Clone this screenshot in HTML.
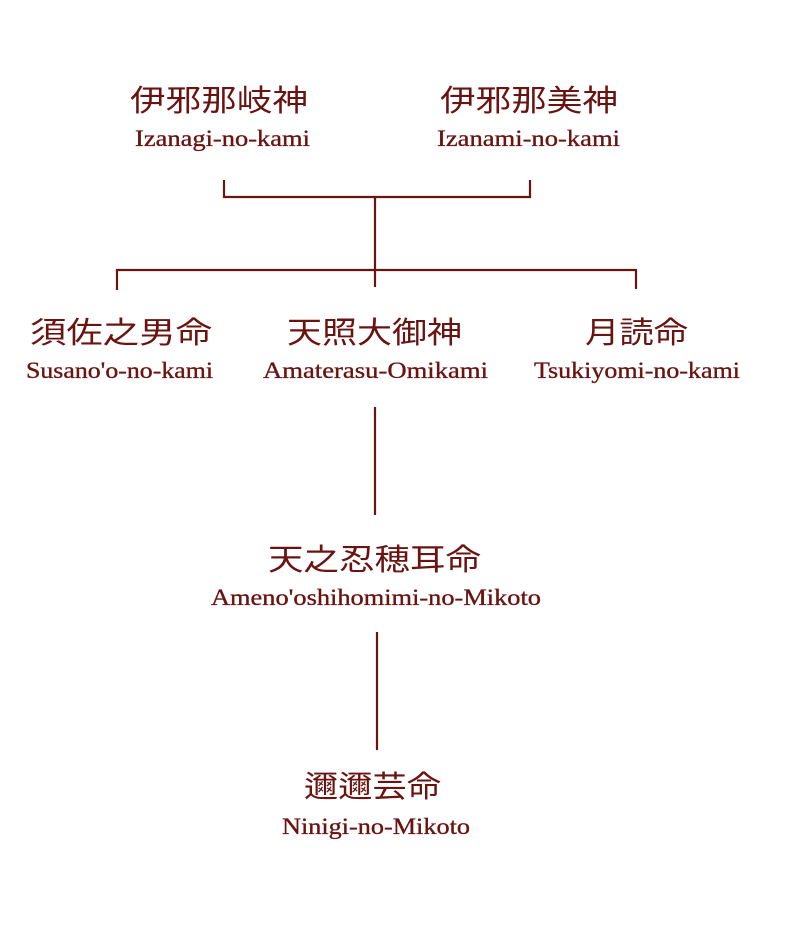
<!DOCTYPE html>
<html><head><meta charset="utf-8"><style>
html,body{margin:0;padding:0;background:#fff;width:788px;height:941px;overflow:hidden}
svg{display:block}
.c{font-family:"Noto Sans CJK JP","Noto Sans CJK SC",sans-serif;font-size:30px;fill:#6a1412}
.l{font-family:"Liberation Serif",serif;font-size:23px;fill:#6a1412;stroke:#6a1412;stroke-width:0.35}
</style></head><body>
<svg width="788" height="941" viewBox="0 0 788 941" xmlns="http://www.w3.org/2000/svg">
<g stroke="#6a1412" stroke-width="2.2" fill="none">
<path d="M224 180 V197 H530 V180"/>
<path d="M375 197 V287"/>
<path d="M117 290 V270 H636 V289"/>
<path d="M375 407 V515"/>
<path d="M377 632 V750"/>
</g>
<text class="c" x="130" y="111" textLength="178" lengthAdjust="spacingAndGlyphs">伊邪那岐神</text>
<text class="l" x="135" y="146" textLength="175" lengthAdjust="spacingAndGlyphs">Izanagi-no-kami</text>
<text class="c" x="440" y="111" textLength="178" lengthAdjust="spacingAndGlyphs">伊邪那美神</text>
<text class="l" x="437" y="146" textLength="183" lengthAdjust="spacingAndGlyphs">Izanami-no-kami</text>

<text class="c" x="30" y="343" textLength="182" lengthAdjust="spacingAndGlyphs">須佐之男命</text>
<text class="l" x="26" y="378" textLength="187" lengthAdjust="spacingAndGlyphs">Susano'o-no-kami</text>
<text class="c" x="287" y="343" textLength="175" lengthAdjust="spacingAndGlyphs">天照大御神</text>
<text class="l" x="263" y="378" textLength="225" lengthAdjust="spacingAndGlyphs">Amaterasu-Omikami</text>
<text class="c" x="585" y="343" textLength="103" lengthAdjust="spacingAndGlyphs">月読命</text>
<text class="l" x="534" y="378" textLength="206" lengthAdjust="spacingAndGlyphs">Tsukiyomi-no-kami</text>

<text class="c" x="268" y="570" textLength="213" lengthAdjust="spacingAndGlyphs">天之忍穂耳命</text>
<text class="l" x="211" y="605" textLength="330" lengthAdjust="spacingAndGlyphs">Ameno'oshihomimi-no-Mikoto</text>

<text class="c" x="304" y="797" textLength="137" lengthAdjust="spacingAndGlyphs">邇邇芸命</text>
<text class="l" x="282" y="834" textLength="188" lengthAdjust="spacingAndGlyphs">Ninigi-no-Mikoto</text>
</svg>
</body></html>
